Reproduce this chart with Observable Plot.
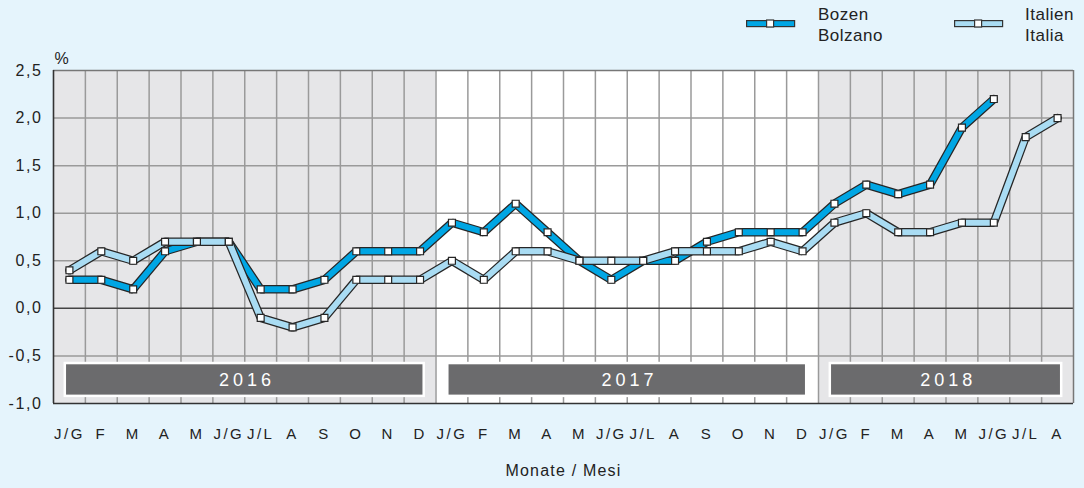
<!DOCTYPE html>
<html><head><meta charset="utf-8">
<script src="https://cdn.jsdelivr.net/npm/d3@7"></script>
<script src="https://cdn.jsdelivr.net/npm/@observablehq/plot@0.6"></script>
<style>
  html,body{margin:0;padding:0;background:#e5f4fc;}
  body{font-family:"Liberation Sans",Arial,sans-serif;color:#222;}
  #wrap{position:relative;width:1084px;height:488px;overflow:hidden;}
  #legend{position:relative;width:1084px;height:40px;}
  .sym{position:absolute;top:19px;}
  .lab{position:absolute;top:4px;font-size:17px;line-height:21px;color:#222;letter-spacing:0.5px;}
  g[aria-label="x-axis tick label"] text{letter-spacing:2.5px;}
  g[aria-label="y-axis tick label"] text{letter-spacing:1.6px;}
</style>
</head><body>
<div id="wrap">
  <div id="legend"></div>
  <div id="chart"></div>
</div>
<script>
// ---- data ----
const monthLabels = ["J/G","F","M","A","M","J/G","J/L","A","S","O","N","D"];
const xTickLabels = [...monthLabels, ...monthLabels, ...monthLabels.slice(0, 8)];
const years = ["2016", "2017", "2018"];
const yearFirstMonth = [0, 12, 24];
const yearLastMonth = [11, 23, 31];
const bozen = [0.3, 0.3, 0.2, 0.6, 0.7, 0.7, 0.2, 0.2, 0.3, 0.6, 0.6, 0.6,
               0.9, 0.8, 1.1, 0.8, 0.5, 0.3, 0.5, 0.5, 0.7, 0.8, 0.8, 0.8,
               1.1, 1.3, 1.2, 1.3, 1.9, 2.2];
const italien = [0.4, 0.6, 0.5, 0.7, 0.7, 0.7, -0.1, -0.2, -0.1, 0.3, 0.3, 0.3,
                 0.5, 0.3, 0.6, 0.6, 0.5, 0.5, 0.5, 0.6, 0.6, 0.6, 0.7, 0.6,
                 0.9, 1.0, 0.8, 0.8, 0.9, 0.9, 1.8, 2.0];
const yTicks = [-1, -0.5, 0, 0.5, 1, 1.5, 2, 2.5];
const seriesNames = [["Bozen", "Bolzano"], ["Italien", "Italia"]];
const seriesColors = ["#00a6e4", "#a9dcf3"];
const axisTitle = "Monate / Mesi";

// ---- legend ----
const legend = document.getElementById("legend");
const legendX = [[746, 818], [954, 1025]];
seriesNames.forEach((names, i) => {
  const s = document.createElementNS("http://www.w3.org/2000/svg", "svg");
  s.setAttribute("class", "sym");
  s.setAttribute("width", 50); s.setAttribute("height", 10);
  s.style.left = legendX[i][0] + "px";
  s.innerHTML = `<rect x="0.6" y="1.6" width="48" height="6" fill="${seriesColors[i]}" stroke="#333" stroke-width="1.2"/>
    <rect x="20.6" y="1" width="7" height="7" fill="#fff" stroke="#333" stroke-width="1.2"/>`;
  legend.appendChild(s);
  const t = document.createElement("div");
  t.className = "lab";
  t.style.left = legendX[i][1] + "px";
  t.innerHTML = names.join("<br>");
  legend.appendChild(t);
});

// ---- chart ----
const bozenData = bozen.map((v, i) => ({i, v}));
const italienData = italien.map((v, i) => ({i, v}));
const yi = d3.range(years.length);
const fmt = d => d.toFixed(1).replace(".", ",");

const chart = Plot.plot({
  width: 1084, height: 448,
  marginLeft: 53, marginRight: 11, marginTop: 30, marginBottom: 85,
  style: {background: "transparent", fontFamily: '"Liberation Sans", Arial, sans-serif', fontSize: "15px", color: "#222", overflow: "visible"},
  x: {domain: [-0.5, 31.5], axis: null},
  y: {domain: [-1, 2.5], axis: null},
  marks: [
    Plot.rect(yi, {x1: i => yearFirstMonth[i] - 0.5, x2: i => yearLastMonth[i] + 0.5, y1: () => -1, y2: () => 2.5,
                   fill: i => i === 1 ? "#ffffff" : "#e6e6e8"}),
    Plot.ruleX(d3.range(1, 32).map(k => k - 0.5), {stroke: "#9a9a9a", strokeWidth: 1.5}),
    Plot.ruleY(yTicks.filter(t => t !== 0 && t !== -1 && t !== 2.5), {stroke: "#9a9a9a", strokeWidth: 1.5}),
    Plot.ruleY([0], {stroke: "#444", strokeWidth: 1.5}),
    Plot.ruleY([2.5], {stroke: "#777", strokeWidth: 1.5}),
    Plot.ruleX([31.5], {stroke: "#777", strokeWidth: 1.5}),
    Plot.ruleX([-0.5], {stroke: "#333", strokeWidth: 1.6}),
    Plot.ruleY([-1], {stroke: "#333", strokeWidth: 1.6}),
    Plot.rect(yi, {x1: i => yearFirstMonth[i] - 0.5 + 0.37, x2: i => yearLastMonth[i] + 0.5 - 0.37,
                   y1: () => -0.925, y2: () => -0.58, fill: "#6b6b6d", stroke: "#ffffff", strokeWidth: 2.5}),
    Plot.text(yi, {x: i => (yearFirstMonth[i] + yearLastMonth[i]) / 2 + 0.07, y: () => -0.753, text: i => years[i],
                   fill: "#ffffff", fontSize: 18}),
    Plot.line(bozenData, {x: "i", y: "v", stroke: "#262626", strokeWidth: 8.5, strokeLinejoin: "miter"}),
    Plot.line(bozenData, {x: "i", y: "v", stroke: seriesColors[0], strokeWidth: 6, strokeLinejoin: "miter"}),
    Plot.line(italienData, {x: "i", y: "v", stroke: "#262626", strokeWidth: 8.5, strokeLinejoin: "miter"}),
    Plot.line(italienData, {x: "i", y: "v", stroke: seriesColors[1], strokeWidth: 6, strokeLinejoin: "miter"}),
    Plot.dot(bozenData, {x: "i", y: "v", symbol: "square", r: 3.9, fill: "#ffffff", stroke: "#262626", strokeWidth: 1.2}),
    Plot.dot(italienData, {x: "i", y: "v", symbol: "square", r: 3.9, fill: "#ffffff", stroke: "#262626", strokeWidth: 1.2}),
    Plot.axisY(yTicks, {tickSize: 0, tickPadding: 11, tickFormat: fmt, fontSize: 16, fill: "#222", label: null}),
    Plot.axisX(d3.range(xTickLabels.length), {tickSize: 0, tickPadding: 25, tickFormat: i => xTickLabels[i], fontSize: 15, fill: "#222", label: null}),
    Plot.text(["%"], {frameAnchor: "top-left", dx: 1, dy: -18, textAnchor: "start", fontSize: 16, fill: "#222"}),
    Plot.text([axisTitle], {frameAnchor: "bottom", dy: 72, fontSize: 16, fill: "#222"})
  ]
});
d3.select(chart).selectAll("text")
  .filter(function() { return years.includes(this.textContent); })
  .attr("letter-spacing", 4);
d3.select(chart).selectAll("text")
  .filter(function() { return this.textContent === axisTitle; })
  .attr("letter-spacing", 1.2);
document.getElementById("chart").appendChild(chart);
</script>
</body></html>
